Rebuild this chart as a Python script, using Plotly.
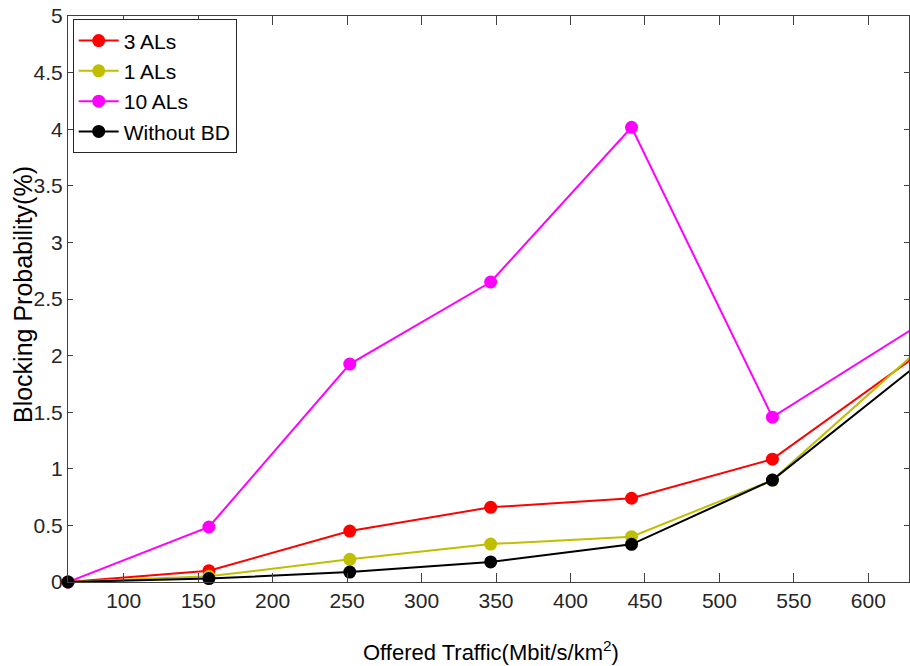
import plotly.graph_objects as go

x_traffic = [62.6, 157.2, 251.8, 346.4, 441.0, 535.6, 630.2]
al3 = [0.0, 0.10, 0.45, 0.66, 0.74, 1.085, 1.98]
al1 = [0.0, 0.05, 0.20, 0.335, 0.40, 0.90, 2.01]
al10 = [0.0, 0.486, 1.925, 2.65, 4.017, 1.456, 2.24]
no_bd = [0.0, 0.03, 0.088, 0.177, 0.333, 0.90, 1.89]

series_names = ["3 ALs", "1 ALs", "10 ALs", "Without BD"]
series_vals = [al3, al1, al10, no_bd]
series_colors = ["#ff0000", "#bfbf00", "#ff00ff", "#000000"]

x_ticks = [100, 150, 200, 250, 300, 350, 400, 450, 500, 550, 600]
y_ticks = [0, 0.5, 1, 1.5, 2, 2.5, 3, 3.5, 4, 4.5, 5]
y_ticktext = ["0", "0.5", "1", "1.5", "2", "2.5", "3", "3.5", "4", "4.5", "5"]

x_title = "Offered Traffic(Mbit/s/km<sup>2</sup>)"
y_title = "Blocking Probability(%)"

FONT = "Liberation Sans, Arial, sans-serif"
TXT = "#262626"
AX = "#404040"

fig = go.Figure()
for name, vals, col in zip(series_names, series_vals, series_colors):
    fig.add_trace(go.Scatter(
        x=x_traffic, y=vals, name=name, mode="lines+markers",
        line=dict(color=col, width=2),
        marker=dict(color=col, size=13, symbol="circle"),
        cliponaxis=False,
    ))

fig.update_layout(
    width=910, height=666,
    margin=dict(l=68, r=1, t=16, b=84),
    paper_bgcolor="white", plot_bgcolor="white",
    font=dict(family=FONT, size=21, color=TXT),
    showlegend=True,
    legend=dict(
        x=0.0056, y=0.994, xanchor="left", yanchor="top",
        bgcolor="white", bordercolor="#262626", borderwidth=1,
        font=dict(family=FONT, size=21, color="#000000"),
        tracegroupgap=0, itemwidth=40,
    ),
    annotations=[
        dict(text=x_title, xref="paper", yref="paper", x=0.503, y=-0.1225,
             xanchor="center", yanchor="middle", showarrow=False,
             font=dict(family=FONT, size=22, color="#000000")),
        dict(text=y_title, xref="paper", yref="paper", x=-0.0535, y=0.507,
             xanchor="center", yanchor="middle", showarrow=False, textangle=-90,
             font=dict(family=FONT, size=25, color="#000000")),
    ],
)
fig.update_xaxes(
    range=[62.6, 627.3], tickvals=x_ticks, ticktext=[str(t) for t in x_ticks],
    ticks="inside", ticklen=9, tickcolor=AX, tickwidth=1,
    showline=True, linecolor=AX, linewidth=1, mirror="ticks",
    showgrid=False, zeroline=False,
    tickfont=dict(family=FONT, size=21, color=TXT),
)
fig.update_yaxes(
    range=[0, 5], tickvals=y_ticks, ticktext=y_ticktext,
    ticks="inside", ticklen=5, tickcolor=AX, tickwidth=1,
    showline=True, linecolor=AX, linewidth=1, mirror="ticks",
    showgrid=False, zeroline=False,
    tickfont=dict(family=FONT, size=21, color=TXT),
)

fig.write_html("out.html")
